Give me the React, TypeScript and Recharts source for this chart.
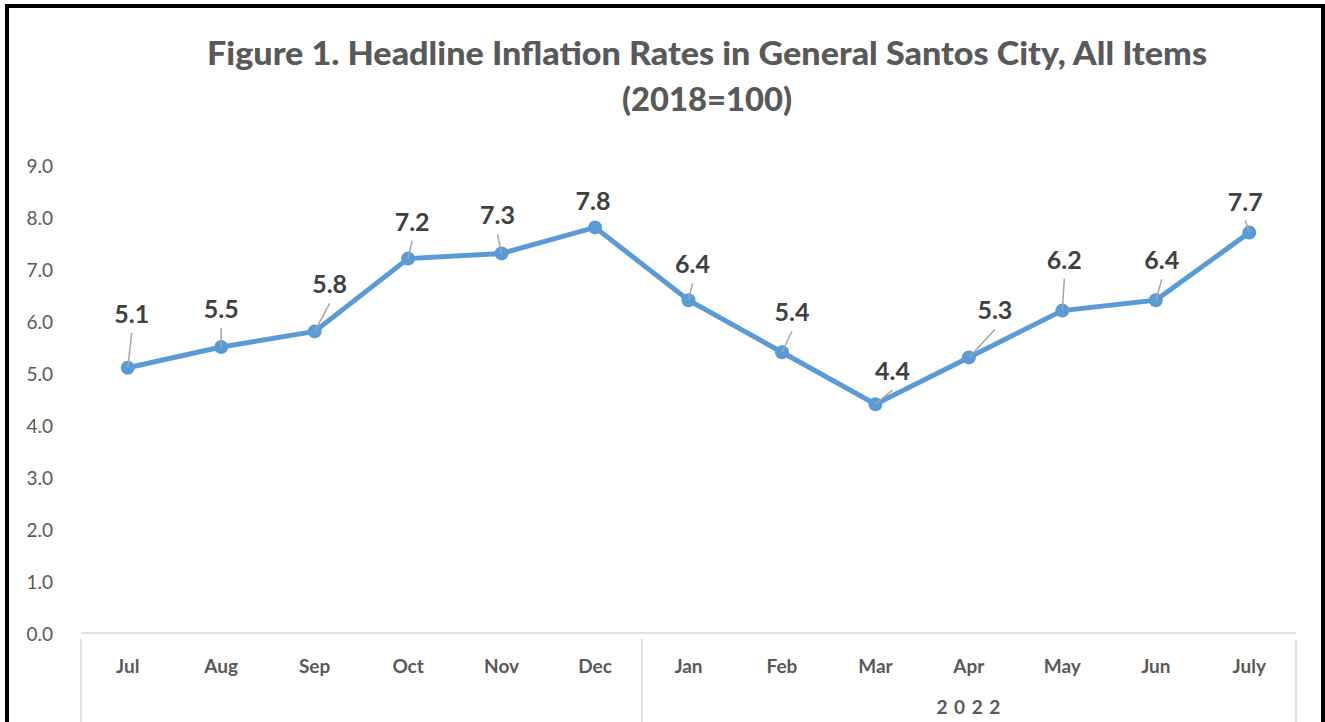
import React from "react";
import { LineChart, Line, XAxis, YAxis } from "recharts";

const months = ["Jul", "Aug", "Sep", "Oct", "Nov", "Dec", "Jan", "Feb", "Mar", "Apr", "May", "Jun", "July"];
const rates = [5.1, 5.5, 5.8, 7.2, 7.3, 7.8, 6.4, 5.4, 4.4, 5.3, 6.2, 6.4, 7.7];
const yTicks = [0, 1, 2, 3, 4, 5, 6, 7, 8, 9];
const yearLabel = "2 0 2 2";
const yearStartIndex = 6;
const titleLine1 = "Figure 1. Headline Inflation Rates in General Santos City, All Items";
const titleLine2 = "(2018=100)";

// label placement offsets relative to each point (dx, dy)
const labelOffsets: [number, number][] = [
  [4, -55], [0, -39], [15, -48], [4, -38], [-4, -39], [-2, -27], [4, -37],
  [10, -41], [17, -34], [26, -48], [2, -52], [6, -41], [-4, -32],
];

const data = months.map((m, i) => ({ month: m, rate: rates[i] }));

const W = 1325;
const H = 722;
const M_TOP = 165;
const M_RIGHT = 29;
const Y_W = 81;
const X_H = 89;
const PLOT_W = W - M_RIGHT - Y_W;
const STEP = PLOT_W / months.length;

const FONT = "Lato, 'Open Sans', sans-serif";
const BLUE = "#5b9bd5";

const YTick = (props: any) => {
  const { y, payload } = props;
  return (
    <text x={53} y={y} textAnchor="end" dominantBaseline="central" fontFamily={FONT} fontSize={19} fill="#595959">
      {Number(payload.value).toFixed(1)}
    </text>
  );
};

const XTick = (props: any) => {
  const { x, y, payload, index } = props;
  const top = y;
  const parts: React.ReactNode[] = [];
  parts.push(
    <text key="t" x={x} y={top + 26} textAnchor="middle" dominantBaseline="central" fontFamily={FONT} fontWeight={700} fontSize={19} fill="#595959">
      {payload.value}
    </text>
  );
  if (index === 0) {
    parts.push(<line key="l0" x1={x - STEP / 2} x2={x - STEP / 2} y1={top} y2={H} stroke="#d9d9d9" strokeWidth={1.5} />);
  }
  if (index === yearStartIndex) {
    parts.push(<line key="l1" x1={x - STEP / 2} x2={x - STEP / 2} y1={top} y2={H} stroke="#d9d9d9" strokeWidth={1.5} />);
  }
  if (index === months.length - 1) {
    parts.push(<line key="l2" x1={x + STEP / 2} x2={x + STEP / 2} y1={top} y2={H} stroke="#d9d9d9" strokeWidth={1.5} />);
    const n = months.length - 1 - yearStartIndex;
    const cx = x - (n * STEP) / 2;
    parts.push(
      <text key="y" x={cx} y={top + 67} textAnchor="middle" dominantBaseline="central" fontFamily={FONT} fontWeight={700} fontSize={19} fill="#595959" letterSpacing={1}>
        {yearLabel}
      </text>
    );
  }
  return <g>{parts}</g>;
};

const PointLabel = (props: any) => {
  const { x, y, value, index } = props;
  const [dx, dy] = labelOffsets[index] || [0, -30];
  const lx = x + dx;
  const ly = y + dy;
  const dist = Math.sqrt(dx * dx + dy * dy);
  return (
    <g>
      {dist > 30 && (
        <line x1={lx} y1={ly + 20} x2={x} y2={y} stroke="#a6a6a6" strokeWidth={1.5} />
      )}
      <text x={lx} y={ly} textAnchor="middle" dominantBaseline="central" fontFamily={FONT} fontWeight={700} fontSize={25} fill="#404040">
        {Number(value).toFixed(1)}
      </text>
    </g>
  );
};

export default function App() {
  return (
    <div style={{ position: "absolute", left: 0, top: 0, width: W, height: H, background: "#fff", overflow: "hidden" }}>
      <div
        style={{
          position: "absolute",
          left: 5,
          top: 4,
          width: W - 5,
          height: H + 20,
          boxSizing: "border-box",
          borderTop: "4px solid #000",
          borderLeft: "4px solid #000",
          borderRight: "4px solid #000",
        }}
      />
      <div style={{ position: "absolute", left: 0, top: 0 }}>
        <LineChart width={W} height={H} data={data} margin={{ top: M_TOP, right: M_RIGHT, left: 0, bottom: 0 }}>
          <text x={707} y={52} textAnchor="middle" dominantBaseline="central" fontFamily={FONT} fontWeight={900} fontSize={33} fill="#595959" textLength={1000} lengthAdjust="spacingAndGlyphs">
            {titleLine1}
          </text>
          <text x={707} y={98} textAnchor="middle" dominantBaseline="central" fontFamily={FONT} fontWeight={900} fontSize={33} fill="#595959" textLength={170} lengthAdjust="spacingAndGlyphs">
            {titleLine2}
          </text>
          <XAxis
            dataKey="month"
            height={X_H}
            padding={{ left: STEP / 2, right: STEP / 2 }}
            axisLine={{ stroke: "#d9d9d9", strokeWidth: 1.5 }}
            tickLine={false}
            tickMargin={0}
            interval={0}
            tick={<XTick />}
          />
          <YAxis
            width={Y_W}
            domain={[0, 9]}
            ticks={yTicks}
            axisLine={false}
            tickLine={false}
            tick={<YTick />}
            interval={0}
          />
          <Line
            type="linear"
            dataKey="rate"
            stroke={BLUE}
            strokeWidth={5}
            dot={{ r: 7, fill: BLUE, stroke: BLUE, strokeWidth: 0 }}
            activeDot={false}
            isAnimationActive={false}
            label={<PointLabel />}
          />
        </LineChart>
      </div>
    </div>
  );
}
